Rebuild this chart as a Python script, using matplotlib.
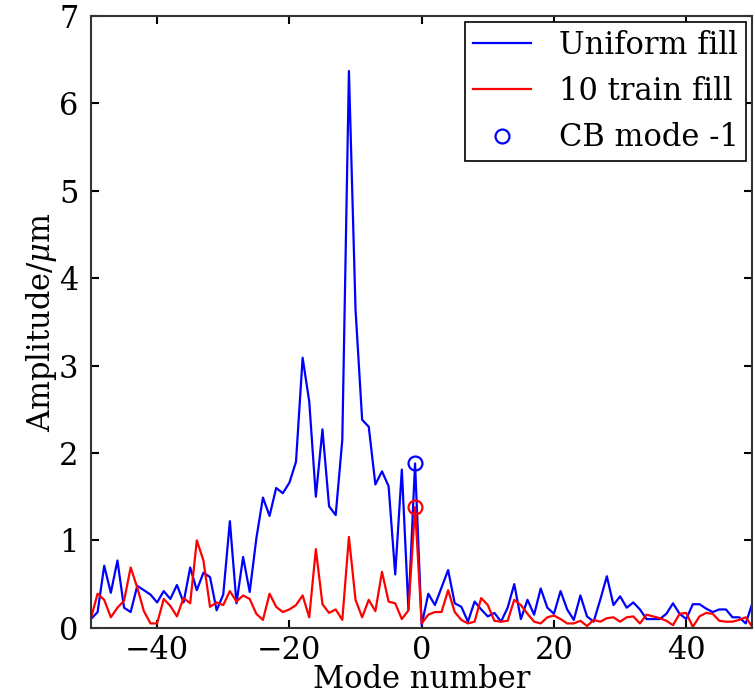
import matplotlib as mpl
import matplotlib.pyplot as plt
import numpy as np

mpl.use('Agg')

# coupled-bunch mode numbers
modes = np.arange(-50, 51)

# amplitude per mode, uniform fill
uniform_fill = [
    0.10, 0.18, 0.71, 0.40, 0.77, 0.23, 0.18, 0.48, 0.43, 0.38,
    0.29, 0.42, 0.33, 0.49, 0.29, 0.69, 0.43, 0.63, 0.58, 0.20,
    0.38, 1.22, 0.28, 0.81, 0.41, 1.02, 1.49, 1.28, 1.60, 1.54,
    1.66, 1.90, 3.09, 2.59, 1.50, 2.27, 1.39, 1.29, 2.15, 6.37,
    3.64, 2.38, 2.30, 1.64, 1.79, 1.62, 0.61, 1.81, 0.21, 1.88,
    0.03, 0.39, 0.26, 0.46, 0.66, 0.28, 0.24, 0.07, 0.30, 0.21,
    0.13, 0.17, 0.07, 0.23, 0.50, 0.10, 0.32, 0.15, 0.45, 0.23,
    0.16, 0.42, 0.21, 0.09, 0.37, 0.13, 0.07, 0.32, 0.59, 0.26,
    0.36, 0.23, 0.29, 0.21, 0.10, 0.10, 0.10, 0.16, 0.28, 0.16,
    0.10, 0.27, 0.27, 0.22, 0.18, 0.21, 0.21, 0.12, 0.12, 0.05,
    0.28,
]

# amplitude per mode, 10 train fill
train_fill = [
    0.11, 0.39, 0.32, 0.12, 0.23, 0.31, 0.69, 0.46, 0.19, 0.05,
    0.05, 0.33, 0.25, 0.13, 0.34, 0.28, 1.00, 0.77, 0.24, 0.29,
    0.26, 0.42, 0.30, 0.37, 0.33, 0.16, 0.09, 0.39, 0.24, 0.18,
    0.21, 0.26, 0.37, 0.12, 0.90, 0.27, 0.17, 0.21, 0.09, 1.04,
    0.32, 0.12, 0.32, 0.19, 0.64, 0.30, 0.28, 0.10, 0.20, 1.38,
    0.05, 0.15, 0.18, 0.18, 0.43, 0.18, 0.09, 0.05, 0.07, 0.34,
    0.26, 0.08, 0.07, 0.08, 0.32, 0.26, 0.16, 0.07, 0.05, 0.12,
    0.14, 0.10, 0.05, 0.05, 0.08, 0.02, 0.09, 0.07, 0.11, 0.12,
    0.07, 0.12, 0.13, 0.05, 0.15, 0.13, 0.11, 0.08, 0.03, 0.16,
    0.17, 0.01, 0.13, 0.17, 0.16, 0.08, 0.07, 0.07, 0.09, 0.12,
    0.01,
]

cb_mode = -1

plt.rcParams['font.family'] = 'DejaVu Serif'
plt.rcParams['mathtext.fontset'] = 'dejavuserif'
plt.rcParams['font.size'] = 22

fig = plt.figure(figsize=(7.55, 6.96), dpi=100)
ax = fig.add_axes([0.1205, 0.098, 0.876, 0.879])

idx = list(modes).index(cb_mode)

ax.plot(modes, uniform_fill, color='blue', linewidth=1.6, label='Uniform fill')
ax.plot(modes, train_fill, color='red', linewidth=1.6, label='10 train fill')
ax.plot(cb_mode, uniform_fill[idx], 'o', markersize=10, markerfacecolor='none',
        markeredgecolor='blue', markeredgewidth=1.6, label='CB mode -1')
ax.plot(cb_mode, train_fill[idx], 'o', markersize=10, markerfacecolor='none',
        markeredgecolor='red', markeredgewidth=1.6)

ax.set_xlim(-50, 50)
ax.set_ylim(0, 7)
ax.set_xticks([-40, -20, 0, 20, 40])
ax.set_yticks(range(0, 8))
ax.tick_params(direction='in', top=True, right=True, length=6, width=1.5, pad=9)
ax.tick_params(axis='x', pad=5)
for spine in ax.spines.values():
    spine.set_linewidth(1.5)
    spine.set_color('#333333')

ax.set_xlabel('Mode number', labelpad=-1)
ax.set_ylabel(r'Amplitude/$\mu$m', labelpad=0)

leg = ax.legend(loc='upper right', fancybox=False, edgecolor='black',
                framealpha=1, borderaxespad=0.2, borderpad=0.25,
                handletextpad=0.9, handlelength=1.9)
leg.get_frame().set_linewidth(1.2)

fig.savefig('out.png', dpi=100)
plt.close('all')
